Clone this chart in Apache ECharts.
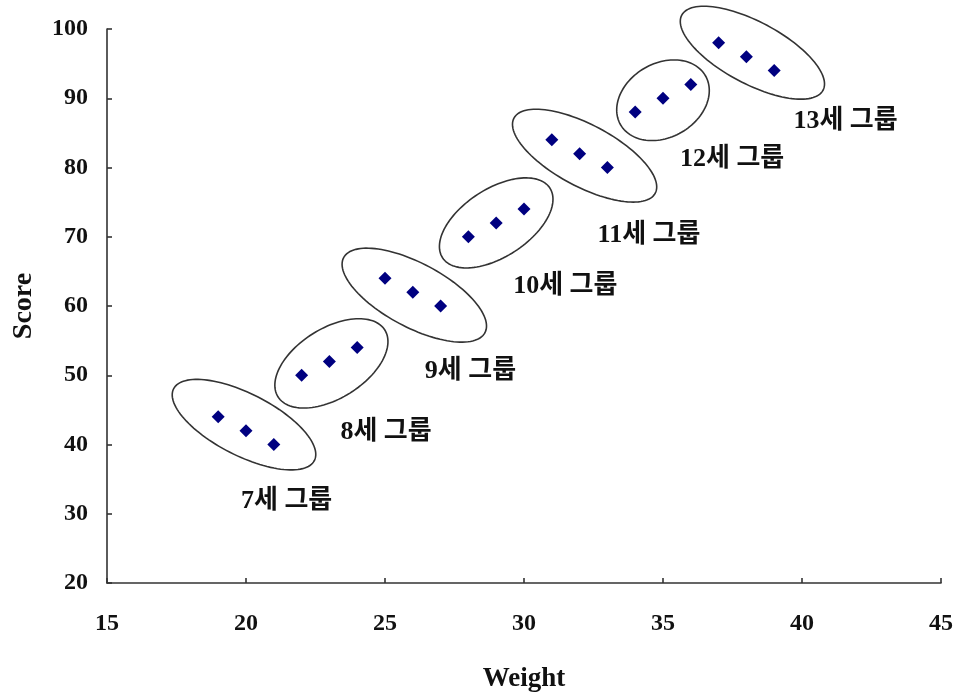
<!DOCTYPE html>
<html>
<head>
<meta charset="utf-8">
<script src="https://cdn.jsdelivr.net/npm/echarts@6/dist/echarts.min.js"></script>
<style>
html,body{margin:0;padding:0;background:#fff;}
#chart{width:953px;height:693px;}
</style>
</head>
<body>
<div id="chart"></div>
<script>
// ---- data ----
const groupLabels = ['7세 그룹', '8세 그룹', '9세 그룹', '10세 그룹', '11세 그룹', '12세 그룹', '13세 그룹'];
const weights7 = [19, 20, 21];   const scores7 = [44, 42, 40];
const weights8 = [22, 23, 24];   const scores8 = [50, 52, 54];
const weights9 = [25, 26, 27];   const scores9 = [64, 62, 60];
const weights10 = [28, 29, 30];  const scores10 = [70, 72, 74];
const weights11 = [31, 32, 33];  const scores11 = [84, 82, 80];
const weights12 = [34, 35, 36];  const scores12 = [88, 90, 92];
const weights13 = [37, 38, 39];  const scores13 = [98, 96, 94];
const xAxisTitle = 'Weight';
const yAxisTitle = 'Score';
const xMin = 15, xMax = 45, xStep = 5;
const yMin = 20, yMax = 100, yStep = 10;

const groupWeights = [weights7, weights8, weights9, weights10, weights11, weights12, weights13];
const groupScores = [scores7, scores8, scores9, scores10, scores11, scores12, scores13];

// ---- layout / style (pixels) for ellipses and group labels ----
const ellipseStyle = [
  {dx: -2, dy: -6, a: 79, b: 31, rot: 27,  lx: -5, ly: 71},
  {dx: 2,  dy: 2,  a: 63, b: 35, rot: -32, lx: 11, ly: 71},
  {dx: 1.5,dy: 3,  a: 80, b: 32, rot: 28,  lx: 12, ly: 79},
  {dx: 0,  dy: 0,  a: 64, b: 34, rot: -33, lx: 17, ly: 63},
  {dx: 5,  dy: 2,  a: 80, b: 31, rot: 28,  lx: 18, ly: 82},
  {dx: 0,  dy: 2,  a: 49, b: 37, rot: -30, lx: 17, ly: 61},
  {dx: 6,  dy: -4, a: 80, b: 31, rot: 28,  lx: 47, ly: 65}
];

const FONT = '"Liberation Serif", "Noto Sans CJK KR", serif';

const scatterData = [];
groupWeights.forEach((ws, g) => {
  ws.forEach((w, i) => scatterData.push([w, groupScores[g][i]]));
});

const groupData = groupWeights.map((ws, g) => {
  const mx = ws.reduce((s, v) => s + v, 0) / ws.length;
  const my = groupScores[g].reduce((s, v) => s + v, 0) / groupScores[g].length;
  return [mx, my, g];
});

function renderGroup(params, api) {
  const g = api.value(2);
  const c = api.coord([api.value(0), api.value(1)]);
  const st = ellipseStyle[g];
  const cx = c[0] + st.dx, cy = c[1] + st.dy;
  const th = st.rot * Math.PI / 180;
  const pts = [];
  const N = 120;
  for (let k = 0; k < N; k++) {
    const t = 2 * Math.PI * k / N;
    pts.push([
      cx + st.a * Math.cos(th) * Math.cos(t) - st.b * Math.sin(th) * Math.sin(t),
      cy + st.a * Math.sin(th) * Math.cos(t) + st.b * Math.cos(th) * Math.sin(t)
    ]);
  }
  return {
    type: 'group',
    children: [
      {
        type: 'polygon',
        shape: {points: pts},
        style: {fill: 'none', stroke: '#333333', lineWidth: 1.6}
      },
      {
        type: 'text',
        style: {
          text: groupLabels[g],
          x: c[0] + st.lx,
          y: c[1] + st.ly,
          fill: '#111111',
          font: 'bold 26px ' + FONT,
          align: 'left',
          verticalAlign: 'middle'
        }
      }
    ]
  };
}

const chart = echarts.init(document.getElementById('chart'), null, {renderer: 'canvas'});
chart.setOption({
  animation: false,
  backgroundColor: '#ffffff',
  grid: {left: 107, right: 12, top: 29, bottom: 110, containLabel: false, outerBoundsMode: 'none'},
  xAxis: {
    type: 'value',
    min: xMin, max: xMax, interval: xStep,
    name: xAxisTitle,
    nameLocation: 'middle',
    nameGap: 83,
    nameTextStyle: {fontFamily: FONT, fontWeight: 'bold', fontSize: 27, color: '#111'},
    axisLine: {show: true, lineStyle: {color: '#333', width: 1.6}},
    axisTick: {show: true, inside: true, length: 5, lineStyle: {color: '#333', width: 1.6}},
    axisLabel: {fontFamily: FONT, fontWeight: 'bold', fontSize: 24, color: '#111', margin: 29},
    splitLine: {show: false}
  },
  yAxis: {
    type: 'value',
    min: yMin, max: yMax, interval: yStep,
    name: yAxisTitle,
    nameLocation: 'middle',
    nameGap: 69,
    nameTextStyle: {fontFamily: FONT, fontWeight: 'bold', fontSize: 28, color: '#111'},
    axisLine: {show: true, lineStyle: {color: '#333', width: 1.6}},
    axisTick: {show: true, inside: true, length: 5, lineStyle: {color: '#333', width: 1.6}},
    axisLabel: {fontFamily: FONT, fontWeight: 'bold', fontSize: 24, color: '#111', margin: 19},
    splitLine: {show: false}
  },
  series: [
    {
      type: 'custom',
      coordinateSystem: 'cartesian2d',
      renderItem: renderGroup,
      data: groupData,
      clip: false,
      silent: true,
      z: 1
    },
    {
      type: 'scatter',
      data: scatterData,
      symbol: 'diamond',
      symbolSize: 13,
      itemStyle: {color: '#000080', opacity: 1},
      z: 3
    }
  ]
});
</script>
</body>
</html>
